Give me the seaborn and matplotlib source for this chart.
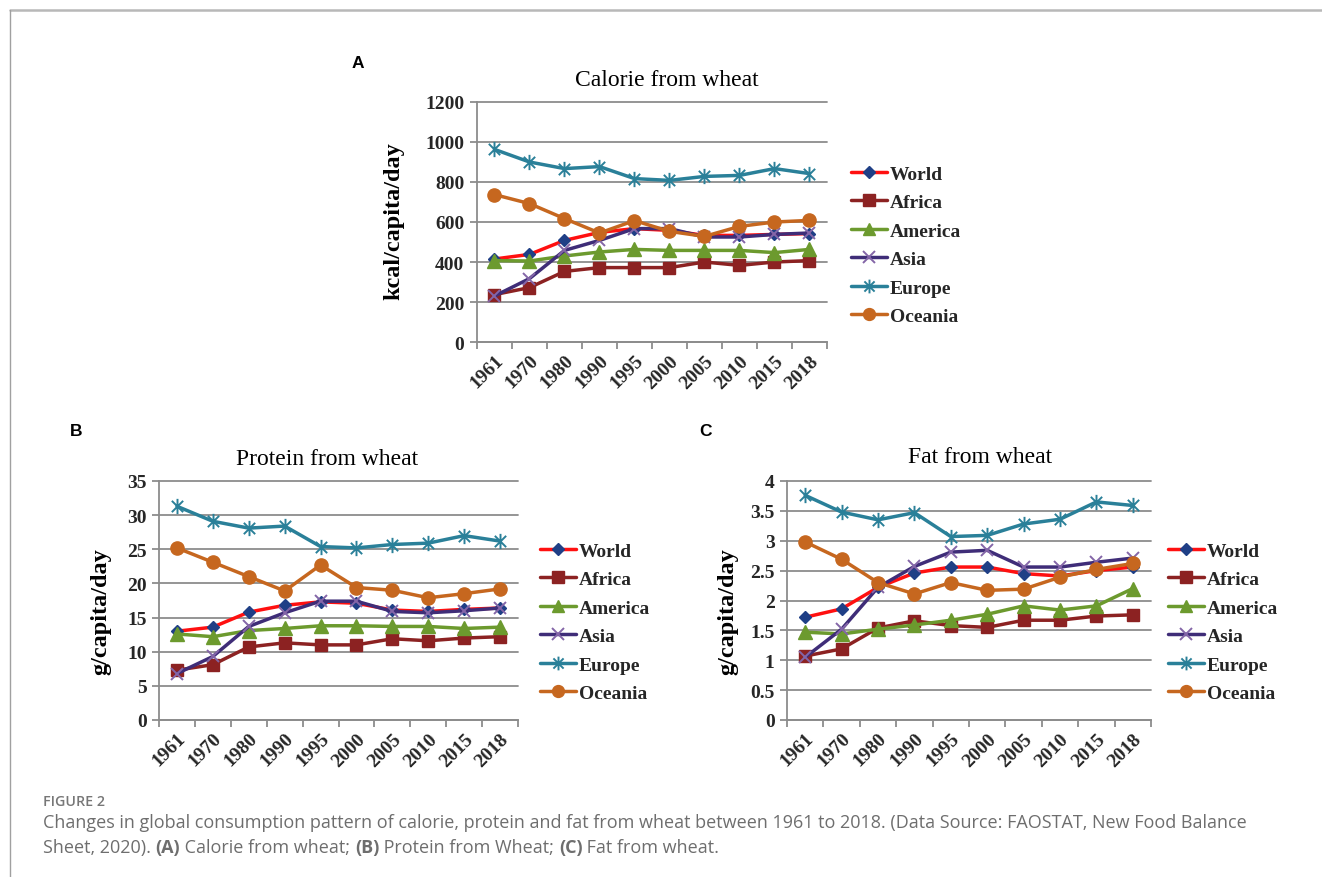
import numpy as np
import pandas as pd
import matplotlib
matplotlib.use("Agg")
import matplotlib.pyplot as plt
import seaborn as sns
from matplotlib.path import Path
from matplotlib.lines import Line2D
from matplotlib.ticker import FuncFormatter

# ---------------- data ----------------
years = ["1961", "1970", "1980", "1990", "1995", "2000", "2005", "2010", "2015", "2018"]
regions = ["World", "Africa", "America", "Asia", "Europe", "Oceania"]

cal_world = [415, 438, 508, 548, 567, 558, 533, 533, 538, 542]
cal_africa = [237, 272, 353, 372, 372, 372, 400, 383, 400, 407]
cal_america = [407, 405, 430, 450, 463, 458, 458, 458, 447, 463]
cal_asia = [230, 317, 458, 508, 567, 567, 525, 525, 538, 545]
cal_europe = [963, 900, 867, 877, 817, 808, 828, 833, 867, 842]
cal_oceania = [737, 692, 617, 545, 607, 553, 528, 578, 600, 608]

prot_world = [13.0, 13.6, 15.8, 16.8, 17.3, 17.1, 16.1, 15.9, 16.2, 16.4]
prot_africa = [7.3, 8.1, 10.7, 11.3, 11.0, 11.0, 11.9, 11.6, 12.0, 12.2]
prot_america = [12.6, 12.2, 13.1, 13.4, 13.8, 13.8, 13.7, 13.7, 13.4, 13.6]
prot_asia = [6.8, 9.3, 13.7, 15.7, 17.4, 17.4, 15.9, 15.7, 16.0, 16.4]
prot_europe = [31.3, 29.1, 28.1, 28.4, 25.4, 25.2, 25.7, 25.9, 27.0, 26.2]
prot_oceania = [25.2, 23.1, 21.0, 18.9, 22.7, 19.4, 19.0, 17.9, 18.5, 19.2]

fat_world = [1.72, 1.86, 2.22, 2.46, 2.56, 2.56, 2.45, 2.41, 2.50, 2.56]
fat_africa = [1.07, 1.19, 1.54, 1.66, 1.58, 1.55, 1.67, 1.67, 1.74, 1.76]
fat_america = [1.47, 1.44, 1.52, 1.59, 1.67, 1.77, 1.91, 1.84, 1.91, 2.20]
fat_asia = [1.05, 1.52, 2.22, 2.57, 2.81, 2.84, 2.56, 2.56, 2.64, 2.71]
fat_europe = [3.76, 3.48, 3.35, 3.47, 3.07, 3.09, 3.28, 3.36, 3.65, 3.59]
fat_oceania = [2.98, 2.69, 2.30, 2.11, 2.30, 2.17, 2.19, 2.39, 2.52, 2.62]

cal_ticks = [0, 200, 400, 600, 800, 1000, 1200]
prot_ticks = [0, 5, 10, 15, 20, 25, 30, 35]
fat_ticks = [0, 0.5, 1, 1.5, 2, 2.5, 3, 3.5, 4]

titles = ["Calorie from wheat", "Protein from wheat", "Fat from wheat"]
ylabels = ["kcal/capita/day", "g/capita/day", "g/capita/day"]
panel_letters = ["A", "B", "C"]

caption_head = "FIGURE 2"
caption_line1 = ("Changes in global consumption pattern of calorie, protein and fat from wheat "
                 "between 1961 to 2018. (Data Source: FAOSTAT, New Food Balance")
caption_line2 = [("Sheet, 2020). ", "normal"), ("(A)", "bold"), (" Calorie from wheat; ", "normal"),
                 ("(B)", "bold"), (" Protein from Wheat; ", "normal"), ("(C)", "bold"),
                 (" Fat from wheat.", "normal")]

# ---------------- styles ----------------
star = Path([(-1, -1), (1, 1), (-1, 1), (1, -1), (0, -1.35), (0, 1.35)],
            [Path.MOVETO, Path.LINETO, Path.MOVETO, Path.LINETO, Path.MOVETO, Path.LINETO])

styles = {
    "World":   dict(line="#FF1010", marker="D", ms=6.5, mfc="#1F3F86", mec="#1F3F86", mew=1.0),
    "Africa":  dict(line="#8C2222", marker="s", ms=9, mfc="#8C2222", mec="#8C2222", mew=1.0),
    "America": dict(line="#6C9A2E", marker="^", ms=9.5, mfc="#6C9A2E", mec="#6C9A2E", mew=1.0),
    "Asia":    dict(line="#3F2D78", marker="x", ms=9, mfc="none", mec="#8466A8", mew=1.4),
    "Europe":  dict(line="#2A8099", marker=star, ms=11, mfc="none", mec="#2A8099", mew=1.4),
    "Oceania": dict(line="#C6671F", marker="o", ms=9.5, mfc="#C6671F", mec="#C6671F", mew=1.0),
}

GRAY = "#8C8C8C"
SERIF = ["Liberation Serif", "DejaVu Serif"]
W, H = 1322, 878
TICK_SIZE = 14

sns.set_theme(style="white")
plt.rcParams["font.family"] = SERIF

fig = plt.figure(figsize=(W / 100, H / 100), dpi=100)


def fx(px):
    return px / W


def fy(py):
    return 1 - py / H


def axes_px(left, top, right, bottom):
    return fig.add_axes([fx(left), fy(bottom), (right - left) / W, (bottom - top) / H])


def draw_panel(ax, series, yticks):
    for name, vals in zip(regions, series):
        st = styles[name]
        df = pd.DataFrame({"Year": years, "Value": vals})
        sns.lineplot(data=df, x="Year", y="Value", ax=ax, color=st["line"], linewidth=2.5,
                     marker=st["marker"], markersize=st["ms"], markerfacecolor=st["mfc"],
                     markeredgecolor=st["mec"], markeredgewidth=st["mew"],
                     sort=False, errorbar=None, legend=False)
    ax.set_xlim(-0.5, len(years) - 0.5)
    ax.set_ylim(yticks[0], yticks[-1])
    ax.set_yticks(yticks)
    ax.yaxis.set_major_formatter(FuncFormatter(lambda v, p: f"{v:g}"))
    ax.set_xticks(range(len(years)))
    ax.set_xticklabels(years, rotation=45, ha="right", va="top", rotation_mode="anchor",
                       fontweight="bold", fontsize=TICK_SIZE)
    ax.set_xticks(np.arange(-0.5, len(years), 1), minor=True)
    ax.tick_params(axis="x", which="major", length=0, pad=7)
    ax.tick_params(axis="x", which="minor", length=5, width=1.3, color=GRAY,
                   direction="out", bottom=True)
    ax.tick_params(axis="y", length=5, width=1.3, color=GRAY, left=True, direction="out",
                   pad=4, labelsize=TICK_SIZE)
    for lab in ax.get_yticklabels():
        lab.set_fontweight("bold")
    ax.grid(axis="y", color=GRAY, linewidth=1.3)
    ax.grid(axis="x", visible=False)
    for gl in ax.get_ygridlines():
        gl.set_clip_on(False)
    ax.set_axisbelow(True)
    for s in ["top", "right"]:
        ax.spines[s].set_visible(False)
    for s in ["left", "bottom"]:
        ax.spines[s].set_color(GRAY)
        ax.spines[s].set_linewidth(1.3)
    ax.set_xlabel("")
    ax.set_ylabel("")


def make_legend(left_px, top_px):
    handles = []
    for name in regions:
        st = styles[name]
        handles.append(Line2D([], [], color=st["line"], linewidth=2.5, marker=st["marker"],
                              markersize=st["ms"] * 0.9, markerfacecolor=st["mfc"],
                              markeredgecolor=st["mec"], markeredgewidth=st["mew"]))
    fig.legend(handles, regions, loc="upper left", bbox_to_anchor=(fx(left_px), fy(top_px)),
               frameon=False, prop={"family": SERIF, "weight": "bold", "size": 14},
               handlelength=1.85, handletextpad=0.15, labelspacing=0.56,
               borderpad=0, borderaxespad=0)


axA = axes_px(477, 103, 827, 343)
axB = axes_px(159, 482, 518, 721)
axC = axes_px(787, 482, 1151, 721)

draw_panel(axA, [cal_world, cal_africa, cal_america, cal_asia, cal_europe, cal_oceania], cal_ticks)
draw_panel(axB, [prot_world, prot_africa, prot_america, prot_asia, prot_europe, prot_oceania], prot_ticks)
draw_panel(axC, [fat_world, fat_africa, fat_america, fat_asia, fat_europe, fat_oceania], fat_ticks)

make_legend(851, 166)
make_legend(540, 543)
make_legend(1168, 543)

# titles, y labels, panel letters
for (tx, ty), t in zip([(667, 80), (327, 460), (980, 458)], titles):
    fig.text(fx(tx), fy(ty), t, ha="center", va="center", fontsize=17, color="black")
for (lx, ly), t in zip([(394, 221), (101, 612), (728, 612)], ylabels):
    fig.text(fx(lx), fy(ly), t, ha="center", va="center", rotation=90, fontsize=17.5,
             fontweight="bold", color="black")
for (px_, py_), t in zip([(358, 63), (76, 432), (706, 432)], panel_letters):
    fig.text(fx(px_), fy(py_), t, ha="center", va="center", fontsize=12.5,
             fontweight="bold", family=["Liberation Sans", "DejaVu Sans"], color="black")

# frame lines
fig.add_artist(Line2D([fx(10), 1], [fy(11), fy(11)], color="#B8B8B8", linewidth=1.8))
fig.add_artist(Line2D([fx(10), fx(10)], [fy(11), 0], color="#A0A0A0", linewidth=1.0))

# caption
CAP_FONT = ["Open Sans", "DejaVu Sans"]
CAP_COLOR = "#6E6E6E"
renderer = fig.canvas.get_renderer()


def text_width(s, size, weight):
    t1 = fig.text(0, 0, s + "|", fontsize=size, fontweight=weight, family=CAP_FONT)
    t2 = fig.text(0, 0, "|", fontsize=size, fontweight=weight, family=CAP_FONT)
    w = t1.get_window_extent(renderer).width - t2.get_window_extent(renderer).width
    t1.remove()
    t2.remove()
    return w


cap_size = 12.0
cap_size = cap_size * 1205 / text_width(caption_line1, cap_size, "normal")

fig.text(fx(43), fy(806), caption_head, fontsize=10.3, fontweight="semibold", family=CAP_FONT,
         color="#777777", va="baseline", ha="left")
fig.text(fx(43), fy(828), caption_line1, fontsize=cap_size, family=CAP_FONT, color=CAP_COLOR,
         va="baseline", ha="left")
xpos = 43
for s, wgt in caption_line2:
    fig.text(fx(xpos), fy(853), s, fontsize=cap_size, fontweight=wgt, family=CAP_FONT,
             color=CAP_COLOR, va="baseline", ha="left")
    xpos += text_width(s, cap_size, wgt)

fig.savefig("out.png", dpi=100)
